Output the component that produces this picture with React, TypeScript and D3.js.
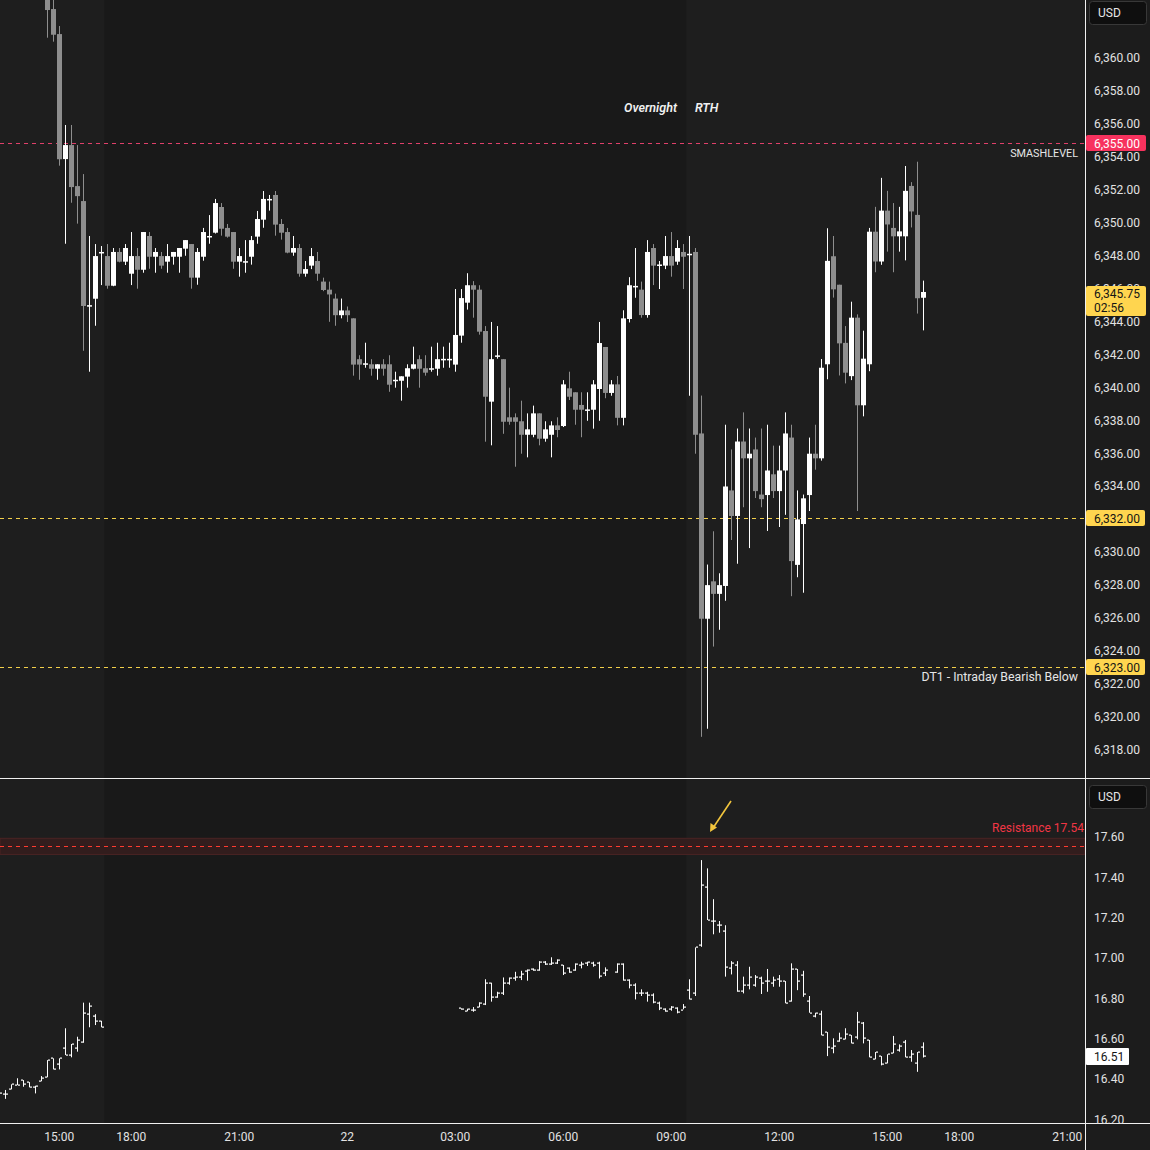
import React from 'react';
import * as d3 from 'd3';

// ---------- DATA ----------
// ES 10-minute candles, first bar 21st 14:40, consecutive session bars
const esStart = { day: 21, h: 14, m: 40 };
const esOpen = [
  6364.5, 6362.93, 6361.41, 6353.82, 6354.67, 6352.18, 6351.27, 6344.90, 6345.34, 6348.12,
  6347.93, 6346.13, 6348.18, 6347.59, 6346.86, 6347.93, 6347.10, 6349.15, 6347.89, 6347.93,
  6347.59, 6347.89, 6347.89, 6348.38, 6348.66, 6346.62, 6347.89, 6349.12, 6349.35, 6350.91,
  6349.64, 6349.39, 6347.59, 6347.58, 6347.89, 6349.11, 6350.14, 6351.37, 6351.64, 6349.88,
  6349.39, 6348.14, 6348.42, 6346.86, 6347.35, 6347.63, 6346.38, 6345.89, 6345.35, 6344.34,
  6344.63, 6344.15, 6341.67, 6341.38, 6341.36, 6341.09, 6341.36, 6341.36, 6340.38, 6340.36,
  6340.61, 6341.09, 6341.67, 6341.12, 6341.08, 6341.09, 6341.65, 6341.65, 6341.34, 6343.10,
  6345.10, 6346.16, 6345.89, 6343.38, 6339.09, 6341.86, 6341.67, 6338.14, 6338.14, 6337.90,
  6337.08, 6337.08, 6338.38, 6336.84, 6337.08, 6337.65, 6337.61, 6339.90, 6339.66, 6338.89,
  6338.58, 6338.60, 6339.86, 6342.41, 6339.62, 6340.14, 6338.11, 6344.11, 6346.08, 6345.89,
  6344.35, 6348.42, 6347.38, 6347.35, 6347.93, 6347.59, 6348.18, 6348.03, 6348.18, 6337.16,
  6325.91, 6328.18, 6327.42, 6327.90, 6333.70, 6332.15, 6336.67, 6335.65, 6336.19, 6333.45,
  6333.42, 6334.68, 6333.66, 6334.91, 6336.91, 6329.18, 6331.66, 6333.42, 6335.93, 6335.65,
  6341.36, 6347.92, 6346.19, 6342.66, 6340.64, 6344.19, 6338.87, 6341.36, 6349.41, 6347.60,
  6350.69, 6349.64, 6349.13, 6349.13, 6352.19, 6350.43, 6345.40,
];
const esHigh = [
  6365.0, 6364.5, 6361.90, 6355.89, 6355.89, 6354.67, 6352.91, 6349.15, 6348.66, 6348.54,
  6348.66, 6348.42, 6348.42, 6348.66, 6349.39, 6348.42, 6349.39, 6349.39, 6348.42, 6348.18,
  6348.66, 6348.18, 6348.42, 6348.90, 6348.66, 6348.42, 6349.64, 6350.42, 6351.40, 6351.15,
  6349.88, 6349.39, 6348.42, 6348.90, 6349.15, 6350.67, 6351.88, 6351.64, 6351.88, 6350.18,
  6349.64, 6349.15, 6348.66, 6347.63, 6348.42, 6348.18, 6346.62, 6346.38, 6345.65, 6345.35,
  6344.87, 6344.15, 6341.91, 6342.67, 6341.67, 6341.36, 6341.67, 6341.91, 6340.91, 6340.63,
  6341.36, 6342.43, 6341.91, 6341.91, 6342.43, 6342.67, 6342.43, 6342.67, 6345.93, 6345.93,
  6346.89, 6346.41, 6346.16, 6343.68, 6343.93, 6343.68, 6341.67, 6339.94, 6338.38, 6339.15,
  6338.38, 6338.85, 6338.38, 6337.90, 6337.90, 6338.14, 6340.40, 6340.91, 6339.66, 6339.66,
  6339.66, 6340.40, 6343.93, 6342.41, 6340.40, 6340.65, 6344.64, 6346.65, 6348.42, 6346.38,
  6348.90, 6348.66, 6347.63, 6349.15, 6349.39, 6348.90, 6348.66, 6349.15, 6348.42, 6339.46,
  6329.20, 6331.22, 6328.67, 6337.69, 6336.19, 6337.46, 6338.44, 6337.46, 6336.91, 6337.46,
  6337.69, 6336.42, 6336.42, 6338.44, 6337.69, 6333.70, 6333.45, 6336.91, 6337.69, 6341.68,
  6349.62, 6349.15, 6346.19, 6343.68, 6345.16, 6344.39, 6343.40, 6349.64, 6350.92, 6352.68,
  6351.89, 6351.15, 6350.92, 6353.40, 6352.42, 6353.66, 6346.44,
];
const esLow = [
  6361.19, 6360.95, 6353.42, 6348.68, 6351.17, 6349.90, 6342.18, 6340.91, 6343.70, 6346.17,
  6345.95, 6346.10, 6347.55, 6347.39, 6346.17, 6345.95, 6346.92, 6347.16, 6346.92, 6347.16,
  6346.92, 6347.41, 6346.92, 6347.95, 6345.95, 6346.19, 6347.65, 6348.68, 6349.30, 6349.17,
  6349.05, 6347.16, 6346.68, 6346.92, 6347.41, 6348.68, 6349.65, 6350.69, 6349.17, 6348.93,
  6348.10, 6347.95, 6346.68, 6346.68, 6347.14, 6346.43, 6345.80, 6343.94, 6343.70, 6344.15,
  6343.93, 6340.67, 6340.42, 6341.15, 6340.67, 6340.42, 6340.67, 6339.69, 6339.94, 6339.15,
  6339.94, 6341.05, 6339.94, 6340.67, 6340.91, 6340.67, 6341.15, 6341.15, 6340.91, 6342.67,
  6344.68, 6344.19, 6343.16, 6336.66, 6336.44, 6341.70, 6337.14, 6337.69, 6335.14, 6335.93,
  6335.71, 6336.93, 6336.44, 6336.66, 6335.71, 6336.93, 6337.55, 6339.19, 6337.69, 6336.93,
  6337.93, 6337.45, 6337.93, 6339.30, 6339.45, 6337.65, 6337.65, 6343.90, 6345.40, 6344.19,
  6344.19, 6346.17, 6345.93, 6347.14, 6346.68, 6347.40, 6345.93, 6339.45, 6335.93, 6318.74,
  6319.23, 6324.22, 6325.24, 6327.00, 6330.69, 6329.25, 6332.68, 6330.20, 6333.24, 6332.68,
  6331.24, 6333.24, 6331.48, 6332.22, 6327.28, 6328.43, 6327.49, 6332.45, 6334.96, 6335.51,
  6340.45, 6345.41, 6340.68, 6340.20, 6340.40, 6332.45, 6338.20, 6340.94, 6346.95, 6347.40,
  6348.20, 6346.95, 6348.20, 6347.67, 6349.67, 6344.44, 6343.42,
];
const esClose = [
  6362.87, 6361.37, 6353.81, 6354.67, 6352.12, 6351.57, 6344.90, 6344.95, 6347.93, 6348.18,
  6346.13, 6348.18, 6347.59, 6348.42, 6347.93, 6347.10, 6349.39, 6347.89, 6348.18, 6347.35,
  6347.93, 6348.18, 6348.42, 6348.90, 6346.62, 6348.18, 6349.39, 6349.15, 6351.15, 6349.59,
  6349.11, 6347.59, 6347.93, 6347.62, 6348.90, 6350.18, 6351.40, 6351.40, 6349.84, 6349.35,
  6348.14, 6348.42, 6346.86, 6347.14, 6347.93, 6346.86, 6345.87, 6345.60, 6344.34, 6344.63,
  6344.34, 6341.34, 6341.34, 6341.42, 6341.09, 6341.36, 6341.09, 6340.12, 6340.42, 6340.63,
  6341.12, 6341.36, 6341.09, 6340.85, 6341.12, 6341.67, 6341.69, 6341.69, 6343.14, 6345.38,
  6346.16, 6345.89, 6343.34, 6339.39, 6341.67, 6341.90, 6337.87, 6337.87, 6337.87, 6337.08,
  6337.41, 6338.38, 6336.84, 6337.41, 6337.65, 6337.37, 6340.14, 6339.39, 6338.60, 6338.60,
  6338.62, 6340.14, 6342.65, 6339.62, 6340.14, 6338.11, 6344.15, 6346.16, 6346.12, 6344.35,
  6348.18, 6347.35, 6347.42, 6347.93, 6347.35, 6348.42, 6347.89, 6348.07, 6337.08, 6325.91,
  6327.95, 6327.42, 6327.95, 6333.94, 6332.15, 6336.67, 6335.65, 6335.93, 6333.66, 6333.17,
  6334.91, 6333.66, 6334.91, 6337.16, 6329.41, 6331.94, 6333.22, 6335.93, 6335.65, 6341.15,
  6347.64, 6345.91, 6342.63, 6340.85, 6344.19, 6338.87, 6341.70, 6349.41, 6347.60, 6350.69,
  6349.85, 6349.13, 6349.43, 6351.89, 6350.64, 6345.37, 6345.75,
];

// VIX 10-minute OHLC bars: cash session segment (21st) and overnight/RTH segment (22nd)
const vix1Start = { day: 21, h: 13, m: 20 };
const vix1Open = [16.33, 16.324, 16.35, 16.368, 16.393, 16.383, 16.357, 16.39, 16.41, 16.501, 16.473, 16.55, 16.517, 16.55, 16.583, 16.72, 16.71, 16.687];
const vix1High = [16.34, 16.344, 16.372, 16.402, 16.393, 16.383, 16.365, 16.413, 16.492, 16.501, 16.501, 16.65, 16.572, 16.608, 16.777, 16.777, 16.72, 16.687];
const vix1Low = [16.31, 16.3, 16.347, 16.368, 16.36, 16.357, 16.327, 16.387, 16.407, 16.446, 16.446, 16.517, 16.506, 16.534, 16.578, 16.655, 16.666, 16.655];
const vix1Close = [16.33, 16.324, 16.372, 16.368, 16.372, 16.357, 16.365, 16.402, 16.492, 16.446, 16.501, 16.517, 16.572, 16.592, 16.727, 16.76, 16.687, 16.655];

const vix2Start = { day: 22, h: 3, m: 10 };
const vix2Open = [
  16.749, 16.737, 16.74, 16.757, 16.77, 16.873, 16.806, 16.826, 16.873, 16.897,
  16.906, 16.935, 16.942, 16.939, 16.98, 16.969, 16.972, 16.964, 16.947, 16.939,
  16.964, 16.972, 16.975, 16.975, 16.922, null, 16.929, 16.969, 16.889, 16.864,
  16.826, 16.826, 16.815, 16.777, 16.744, 16.744, 16.749, 16.74, 16.84, 16.826,
  17.063, 17.349, 17.182, 17.161, 17.132, 16.947, 16.964, 16.836, 16.864, 16.863,
  16.897, 16.884, 16.873, 16.893, 16.884, 16.785, 16.944, 16.914, 16.787, 16.71,
  16.721, 16.631, 16.55, 16.588, 16.595, 16.616, 16.608, 16.675, 16.592, 16.496,
  16.512, 16.476, 16.529, 16.542, 16.583, 16.509, 16.479, 16.558,
];
const vix2High = [
  16.749, 16.747, 16.755, 16.779, 16.893, 16.876, 16.831, 16.902, 16.902, 16.93,
  16.935, 16.942, 16.947, 16.983, 16.983, 17.002, 16.992, 16.964, 16.952, 16.972,
  16.98, 16.98, 16.98, 16.98, 16.952, null, 16.972, 16.972, 16.893, 16.873,
  16.843, 16.831, 16.823, 16.782, 16.749, 16.76, 16.754, 16.77, 16.893, 17.051,
  17.484, 17.443, 17.29, 17.182, 17.161, 16.983, 16.983, 16.906, 16.955, 16.914,
  16.906, 16.944, 16.906, 16.914, 16.884, 16.972, 16.944, 16.935, 16.81, 16.727,
  16.737, 16.631, 16.6, 16.628, 16.65, 16.616, 16.731, 16.681, 16.592, 16.532,
  16.512, 16.521, 16.612, 16.57, 16.592, 16.542, 16.532, 16.58,
];
const vix2Low = [
  16.742, 16.734, 16.732, 16.754, 16.765, 16.782, 16.801, 16.815, 16.866, 16.886,
  16.889, 16.886, 16.935, 16.935, 16.964, 16.964, 16.969, 16.914, 16.925, 16.935,
  16.947, 16.959, 16.955, 16.897, 16.909, null, 16.925, 16.886, 16.848, 16.793,
  16.81, 16.782, 16.774, 16.74, 16.732, 16.737, 16.724, 16.744, 16.793, 16.81,
  17.054, 17.187, 17.116, 17.124, 16.906, 16.917, 16.831, 16.823, 16.843, 16.856,
  16.82, 16.831, 16.856, 16.856, 16.774, 16.782, 16.839, 16.806, 16.727, 16.704,
  16.615, 16.512, 16.526, 16.583, 16.595, 16.575, 16.595, 16.575, 16.506, 16.496,
  16.466, 16.476, 16.526, 16.534, 16.506, 16.484, 16.434, 16.505,
];
const vix2Close = [
  16.744, 16.745, 16.739, 16.777, 16.873, 16.803, 16.826, 16.873, 16.897, 16.902,
  16.919, 16.939, 16.939, 16.98, 16.969, 16.972, 16.988, 16.922, 16.93, 16.969,
  16.969, 16.977, 16.964, 16.909, 16.939, null, 16.969, 16.889, 16.864, 16.826,
  16.823, 16.815, 16.782, 16.749, 16.737, 16.754, 16.732, 16.757, 16.793, 17.051,
  17.36, 17.187, 17.18, 17.161, 16.952, 16.972, 16.836, 16.863, 16.902, 16.906,
  16.873, 16.884, 16.889, 16.884, 16.777, 16.944, 16.884, 16.82, 16.727, 16.727,
  16.615, 16.558, 16.562, 16.6, 16.621, 16.578, 16.681, 16.6, 16.506, 16.532,
  16.473, 16.521, 16.57, 16.562, 16.506, 16.521, 16.532, 16.51,
];

// Levels
const smashLevel = 6354.8;
const smashLabel = '6,355.00';
const level1 = 6332;
const dt1Level = 6323;
const lastPrice = 6345.75;
const countdown = '02:56';
const vixLast = 16.51;
const resistanceValue = 17.54;
const resistanceLine = 17.552;
const resistanceBand = 0.04;

// Axis ticks
const priceTicks = d3.range(6318, 6361, 2);
const vixTicks = d3.range(16.2, 17.61, 0.2);
const timeTicks = [
  { label: '15:00', day: 21, h: 15, m: 0 },
  { label: '18:00', day: 21, h: 18, m: 0 },
  { label: '21:00', day: 21, h: 21, m: 0 },
  { label: '22', day: 22, h: 0, m: 0 },
  { label: '03:00', day: 22, h: 3, m: 0 },
  { label: '06:00', day: 22, h: 6, m: 0 },
  { label: '09:00', day: 22, h: 9, m: 0 },
  { label: '12:00', day: 22, h: 12, m: 0 },
  { label: '15:00', day: 22, h: 15, m: 0 },
  { label: '18:00', day: 22, h: 18, m: 0 },
  { label: '21:00', day: 22, h: 21, m: 0 },
];
// RTH sessions (highlighted)
const rthSessions = [
  { start: { day: 21, h: 9, m: 30 }, end: { day: 21, h: 16, m: 20 } },
  { start: { day: 22, h: 9, m: 30 }, end: { day: 22, h: 23, m: 50 } },
];

// ---------- HELPERS ----------
// session minutes: real minutes with the daily 17:00-18:00 maintenance break removed
function sm(t: { day: number; h: number; m: number }) {
  const raw = (t.day - 21) * 1440 + t.h * 60 + t.m;
  let v = raw;
  for (const d of [20, 21, 22]) {
    const bs = (d - 21) * 1440 + 17 * 60;
    if (raw >= bs + 60) v -= 60;
    else if (raw > bs) v -= raw - bs;
  }
  return v;
}

const BAR = 10;
const AXIS_X = 1085;
const MAIN_BOTTOM = 778;
const LOWER_TOP = 779;
const TIME_AXIS_Y = 1123;
const FONT = 'Roboto, "Liberation Sans", sans-serif';

const x = d3
  .scaleLinear()
  .domain([sm({ day: 21, h: 15, m: 0 }), sm({ day: 22, h: 21, m: 0 })])
  .range([59.3, 1067.3]);
const halfBar = (x(BAR) - x(0)) / 2;

const yMain = d3.scaleLinear().domain([6318, 6360]).range([749, 57.3]);
const yVix = d3.scaleLinear().domain([16.2, 17.6]).range([1119, 836.7]);

const fmtPrice = d3.format(',.2f');
const fmtVix = d3.format('.2f');

type Bar = { t: number; o: number; h: number; l: number; c: number };

function buildBars(start: any, o: any[], h: any[], l: any[], c: any[]): Bar[] {
  const t0 = sm(start);
  const out: Bar[] = [];
  o.forEach((ov, i) => {
    if (ov == null) return;
    out.push({ t: t0 + i * BAR, o: ov, h: h[i], l: l[i], c: c[i] });
  });
  return out;
}

const esBars = buildBars(esStart, esOpen, esHigh, esLow, esClose);
const vixBars = [
  ...buildBars(vix1Start, vix1Open, vix1High, vix1Low, vix1Close),
  ...buildBars(vix2Start, vix2Open, vix2High, vix2Low, vix2Close),
];

const UP = '#ffffff';
const DOWN = '#8e8e8e';
const BG = '#191919';
const HL = '#1e1e1e';
const AXIS_BG = '#1c1c1c';
const TEXT = '#e2e2e2';
const YELLOW = '#ffd54f';
const DASH_YELLOW = '#f2cf4a';
const PINK = '#f7325e';

export default function App() {
  return (
    <div style={{ position: 'absolute', left: 0, top: 0 }}>
      <svg width={1150} height={1150} style={{ display: 'block', background: BG }} fontFamily={FONT}>
        <defs>
          <clipPath id="mainClip">
            <rect x={0} y={0} width={AXIS_X} height={MAIN_BOTTOM} />
          </clipPath>
          <clipPath id="lowerClip">
            <rect x={0} y={LOWER_TOP} width={AXIS_X} height={TIME_AXIS_Y - LOWER_TOP} />
          </clipPath>
        </defs>

        {/* backgrounds */}
        <rect x={0} y={0} width={1150} height={1150} fill={BG} />
        {rthSessions.map((s, i) => {
          const x0 = Math.max(0, x(sm(s.start)) - halfBar);
          const x1 = Math.min(AXIS_X, x(sm(s.end)) - halfBar);
          return <rect key={i} x={x0} y={0} width={Math.max(0, x1 - x0)} height={TIME_AXIS_Y} fill={HL} />;
        })}
        <rect x={AXIS_X} y={0} width={1150 - AXIS_X} height={1150} fill={AXIS_BG} />
        <rect x={0} y={TIME_AXIS_Y} width={AXIS_X} height={1150 - TIME_AXIS_Y} fill={AXIS_BG} />

        {/* session labels */}
        <text x={677} y={107} textAnchor="end" dominantBaseline="central" fontSize={12.5} fontStyle="italic" fontWeight={600} fill="#f0f0f0">
          Overnight
        </text>
        <text x={695} y={107} textAnchor="start" dominantBaseline="central" fontSize={12.5} fontStyle="italic" fontWeight={600} fill="#f0f0f0">
          RTH
        </text>

        {/* main pane levels */}
        <g clipPath="url(#mainClip)">
          <line x1={0} x2={AXIS_X} y1={Math.round(yMain(smashLevel)) + 0.5} y2={Math.round(yMain(smashLevel)) + 0.5} stroke="#e0406a" strokeDasharray="4 4" />
          <line x1={0} x2={AXIS_X} y1={Math.round(yMain(level1)) + 0.5} y2={Math.round(yMain(level1)) + 0.5} stroke={DASH_YELLOW} strokeDasharray="4 4" />
          <line x1={0} x2={AXIS_X} y1={Math.round(yMain(dt1Level)) + 0.5} y2={Math.round(yMain(dt1Level)) + 0.5} stroke={DASH_YELLOW} strokeDasharray="4 4" />

          {esBars.map((d, i) => {
            const cx = Math.round(x(d.t));
            const up = d.c >= d.o;
            const col = up ? UP : DOWN;
            const yTop = yMain(Math.max(d.o, d.c));
            const yBot = yMain(Math.min(d.o, d.c));
            const bh = Math.max(1.5, yBot - yTop);
            return (
              <g key={i} fill={col}>
                <rect x={cx} y={yMain(d.h)} width={1} height={yMain(d.l) - yMain(d.h)} />
                <rect x={cx - 2} y={yTop} width={5} height={bh} />
              </g>
            );
          })}
        </g>

        <text x={1078} y={153} textAnchor="end" dominantBaseline="central" fontSize={10.8} fill="#e6e6e6">
          SMASHLEVEL
        </text>
        <text x={1078} y={677} textAnchor="end" dominantBaseline="central" fontSize={12.3} fill="#e6e6e6">
          DT1 - Intraday Bearish Below
        </text>

        {/* lower pane */}
        <g clipPath="url(#lowerClip)">
          <rect
            x={0}
            y={yVix(resistanceLine + resistanceBand)}
            width={AXIS_X}
            height={yVix(resistanceLine - resistanceBand) - yVix(resistanceLine + resistanceBand)}
            fill="#321d1d"
            stroke="#4a2323"
            strokeWidth={1}
          />
          <line x1={0} x2={AXIS_X} y1={Math.round(yVix(resistanceLine)) + 0.5} y2={Math.round(yVix(resistanceLine)) + 0.5} stroke="#ff3b30" strokeDasharray="4 4" />

          {vixBars.map((d, i) => {
            const cx = Math.round(x(d.t));
            return (
              <g key={i} fill="#ffffff">
                <rect x={cx} y={yVix(d.h)} width={1} height={Math.max(1, yVix(d.l) - yVix(d.h))} />
                <rect x={cx - 2} y={Math.round(yVix(d.o)) - 0.5} width={2} height={1.2} />
                <rect x={cx + 1} y={Math.round(yVix(d.c)) - 0.5} width={2} height={1.2} />
              </g>
            );
          })}

          {/* annotation arrow */}
          <line x1={731} y1={801} x2={713} y2={828} stroke="#f2c53d" strokeWidth={1.6} />
          <path d="M 710 832 L 710.5 823 L 717 827.5 Z" fill="#f2c53d" />
        </g>
        <text x={1084} y={828} textAnchor="end" dominantBaseline="central" fontSize={12} fill="#f23645">
          Resistance {resistanceValue.toFixed(2)}
        </text>

        {/* separators */}
        <rect x={AXIS_X} y={0} width={1} height={1150} fill="#f0f0f0" />
        <rect x={0} y={MAIN_BOTTOM} width={1150} height={1} fill="#f0f0f0" />
        <rect x={0} y={TIME_AXIS_Y} width={1150} height={1} fill="#f0f0f0" />

        {/* price axis */}
        {priceTicks.map((v) => (
          <text key={v} x={1094} y={yMain(v) + 1} dominantBaseline="central" fontSize={12} fill={TEXT}>
            {fmtPrice(v)}
          </text>
        ))}
        {vixTicks.map((v) => (
          <text key={v} x={1094} y={yVix(v) + 0.5} dominantBaseline="central" fontSize={12} fill={TEXT}>
            {fmtVix(v)}
          </text>
        ))}

        {/* price labels */}
        <rect x={1086} y={Math.round(yMain(smashLevel)) - 8} width={60} height={16} rx={2} fill={PINK} />
        <text x={1094} y={Math.round(yMain(smashLevel)) + 0.5} dominantBaseline="central" fontSize={12} fill="#ffffff">
          {smashLabel}
        </text>
        <rect x={1086} y={Math.round(yMain(level1)) - 8} width={59} height={16} rx={2} fill={YELLOW} />
        <text x={1094} y={Math.round(yMain(level1)) + 0.5} dominantBaseline="central" fontSize={12} fill="#151515">
          {fmtPrice(level1)}
        </text>
        <rect x={1086} y={Math.round(yMain(dt1Level)) - 8} width={59} height={16} rx={2} fill={YELLOW} />
        <text x={1094} y={Math.round(yMain(dt1Level)) + 0.5} dominantBaseline="central" fontSize={12} fill="#151515">
          {fmtPrice(dt1Level)}
        </text>
        <rect x={1086} y={Math.round(yMain(lastPrice)) - 6} width={60} height={30} rx={2} fill={YELLOW} />
        <text x={1094} y={Math.round(yMain(lastPrice)) + 1.5} dominantBaseline="central" fontSize={12} fill="#151515">
          {fmtPrice(lastPrice)}
        </text>
        <text x={1094} y={Math.round(yMain(lastPrice)) + 15.5} dominantBaseline="central" fontSize={12} fill="#151515">
          {countdown}
        </text>
        <rect x={1086} y={Math.round(yVix(vixLast)) - 8} width={43} height={17} rx={1} fill="#ffffff" />
        <text x={1094} y={Math.round(yVix(vixLast)) + 0.5} dominantBaseline="central" fontSize={12} fill="#151515">
          {fmtVix(vixLast)}
        </text>

        {/* currency boxes */}
        <rect x={1089.5} y={1.5} width={57} height={23} rx={3} fill="#0f0f0f" stroke="#383838" />
        <text x={1098} y={13} dominantBaseline="central" fontSize={12} fill="#e6e6e6">USD</text>
        <rect x={1089.5} y={785.5} width={57} height={23} rx={3} fill="#0f0f0f" stroke="#383838" />
        <text x={1098} y={797} dominantBaseline="central" fontSize={12} fill="#e6e6e6">USD</text>

        {/* time axis */}
        {timeTicks.map((t, i) => (
          <text key={i} x={x(sm(t))} y={1137} textAnchor="middle" dominantBaseline="central" fontSize={12} fill={TEXT}>
            {t.label}
          </text>
        ))}
      </svg>
    </div>
  );
}
